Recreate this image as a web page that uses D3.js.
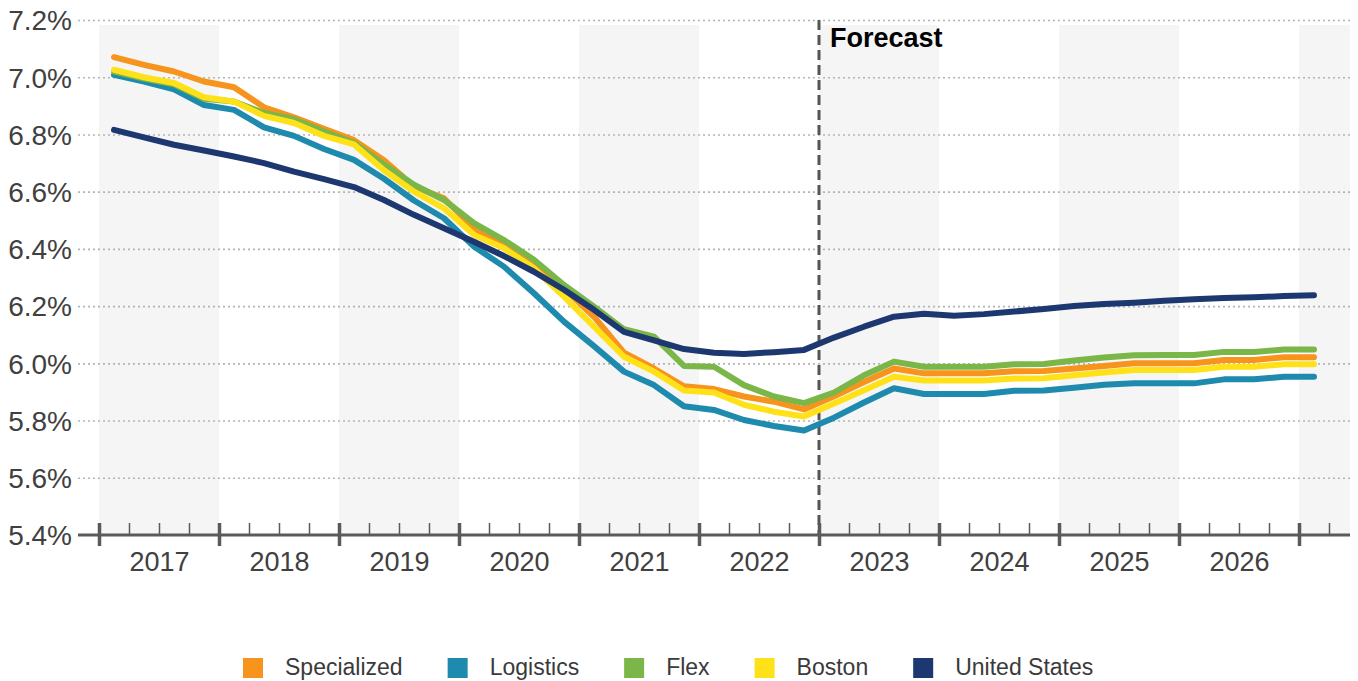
<!DOCTYPE html>
<html>
<head>
<meta charset="utf-8">
<script src="https://cdn.jsdelivr.net/npm/d3@7/dist/d3.min.js"></script>
<style>
    body { margin: 0; background: #ffffff; }
    text { font-family: Arial, "Liberation Sans", sans-serif; }
</style>
</head>
<body>
<svg id="chart" width="1358" height="681"></svg>
<script>
// data, quarterly 2017 Q1 .. 2027 Q1
var years = [2017, 2018, 2019, 2020, 2021, 2022, 2023, 2024, 2025, 2026];
var yTicks = [5.4, 5.6, 5.8, 6.0, 6.2, 6.4, 6.6, 6.8, 7.0, 7.2];
var forecastStart = 2023;

var specialized = [7.07, 7.043, 7.02, 6.985, 6.965, 6.895, 6.86, 6.82, 6.78, 6.71,
    6.618, 6.577, 6.472, 6.408, 6.338, 6.262, 6.163, 6.037, 5.982, 5.92,
    5.91, 5.884, 5.866, 5.839, 5.885, 5.935, 5.982, 5.965, 5.965, 5.965,
    5.972, 5.973, 5.982, 5.991, 6.0, 6.0, 6.0, 6.012, 6.012, 6.021, 6.021];
var logistics = [7.008, 6.985, 6.958, 6.903, 6.886, 6.825, 6.795, 6.749, 6.711, 6.645,
    6.569, 6.507, 6.408, 6.338, 6.245, 6.146, 6.06, 5.971, 5.924, 5.85,
    5.837, 5.802, 5.781, 5.765, 5.81, 5.863, 5.913, 5.893, 5.893, 5.893,
    5.904, 5.905, 5.915, 5.925, 5.93, 5.93, 5.93, 5.944, 5.944, 5.953, 5.953];
var flex = [7.02, 6.995, 6.975, 6.925, 6.915, 6.875, 6.853, 6.81, 6.77, 6.695,
    6.624, 6.571, 6.49, 6.431, 6.362, 6.274, 6.198, 6.119, 6.093, 5.991,
    5.988, 5.924, 5.884, 5.861, 5.898, 5.958, 6.006, 5.988, 5.988, 5.988,
    5.997, 5.998, 6.01, 6.02, 6.028, 6.029, 6.029, 6.04, 6.04, 6.048, 6.048];
var boston = [7.026, 7.0, 6.98, 6.93, 6.915, 6.865, 6.84, 6.795, 6.765, 6.675,
    6.60, 6.542, 6.449, 6.402, 6.332, 6.233, 6.128, 6.023, 5.971, 5.905,
    5.898, 5.855, 5.831, 5.814, 5.86, 5.906, 5.953, 5.94, 5.94, 5.94,
    5.947, 5.948, 5.958, 5.968, 5.977, 5.977, 5.977, 5.988, 5.988, 5.997, 5.997];
var unitedStates = [6.816, 6.79, 6.764, 6.744, 6.723, 6.70, 6.67, 6.644, 6.616, 6.571,
    6.519, 6.472, 6.425, 6.375, 6.32, 6.257, 6.187, 6.11, 6.08, 6.05,
    6.037, 6.033, 6.039, 6.047, 6.09, 6.128, 6.163, 6.173, 6.166, 6.172,
    6.181, 6.19, 6.2, 6.207, 6.212, 6.219, 6.224, 6.228, 6.231, 6.235, 6.238];

// quarter midpoints, as fractional years
var quarters = [];
years.concat([2027]).forEach(function(yr) {
    [1, 2, 3, 4].forEach(function(q) { quarters.push(yr + (q - 0.5) / 4); });
});
quarters = quarters.slice(0, specialized.length);

var series = [
    {name: "Specialized", color: "#F7941D", values: specialized},
    {name: "Logistics", color: "#1E8AAD", values: logistics},
    {name: "Flex", color: "#7AB648", values: flex},
    {name: "Boston", color: "#FFE11A", values: boston},
    {name: "United States", color: "#1D3870", values: unitedStates}
];
// draw order (last on top)
var drawOrder = ["Specialized", "Logistics", "Flex", "Boston", "United States"];

var style = {
    left: 78,
    right: 1350,
    top: 20,
    bottom: 535,
    bandTop: 25,
    axisColor: "#5a5a5a",
    textColor: "#404040"
};

var svg = d3.select("#chart");

var x = d3.scaleLinear()
    .domain([2017, 2027])
    .range([99, 1299]);

var y = d3.scaleLinear()
    .domain([5.4, 7.2])
    .range([style.bottom, style.top]);

// alternating year bands
var bandYears = years.concat([2027]).filter(function(d, i) { return i % 2 === 0; });
svg.append("g")
    .selectAll("rect")
    .data(bandYears)
    .enter()
    .append("rect")
    .attr("x", function(d) { return x(d); })
    .attr("y", style.bandTop)
    .attr("width", function(d) { return Math.min(x(d + 1), style.right) - x(d); })
    .attr("height", style.bottom - style.bandTop)
    .attr("fill", "#f5f5f5");

// gridlines
var grid = svg.append("g")
    .attr("transform", "translate(" + style.right + ",0)")
    .call(d3.axisLeft(y)
        .tickValues(yTicks.filter(function(d) { return d > 5.4; }))
        .tickSize(style.right - style.left)
        .tickFormat(""));
grid.select(".domain").remove();
grid.selectAll("line")
    .attr("stroke", "#b4b4b4")
    .attr("stroke-width", 1.6)
    .attr("stroke-dasharray", "2,3");

// y labels
var yAxis = svg.append("g")
    .attr("transform", "translate(72,0)")
    .call(d3.axisLeft(y)
        .tickValues(yTicks)
        .tickSize(0)
        .tickPadding(0)
        .tickFormat(function(d) { return d.toFixed(1) + "%"; }));
yAxis.select(".domain").remove();
yAxis.selectAll("text")
    .attr("font-size", 28)
    .attr("fill", style.textColor)
    .attr("dy", "0.35em");

// forecast divider
svg.append("line")
    .attr("x1", x(forecastStart))
    .attr("x2", x(forecastStart))
    .attr("y1", style.top)
    .attr("y2", style.bottom)
    .attr("stroke", "#555555")
    .attr("stroke-width", 3)
    .attr("stroke-dasharray", "10,5");

svg.append("text")
    .attr("x", x(forecastStart) + 11)
    .attr("y", 47)
    .attr("font-size", 27)
    .attr("font-weight", "bold")
    .attr("fill", "#000000")
    .text("Forecast");

// lines
var line = d3.line()
    .x(function(d, i) { return x(quarters[i]); })
    .y(function(d) { return y(d); });

svg.append("g")
    .selectAll("path")
    .data(drawOrder.map(function(n) { return series.find(function(s) { return s.name === n; }); }))
    .enter()
    .append("path")
    .attr("d", function(s) { return line(s.values); })
    .attr("fill", "none")
    .attr("stroke", function(s) { return s.color; })
    .attr("stroke-width", 6)
    .attr("stroke-linejoin", "round")
    .attr("stroke-linecap", "round");

// x axis: baseline, minor ticks, major ticks, year labels
var axisTop = 523;

var minorTicks = [];
years.concat([2027]).forEach(function(yr) {
    [0.25, 0.5, 0.75].forEach(function(f) { minorTicks.push(yr + f); });
});
minorTicks = minorTicks.filter(function(d) { return x(d) < style.right; });

var minor = svg.append("g")
    .attr("transform", "translate(0," + axisTop + ")")
    .call(d3.axisBottom(x).tickValues(minorTicks).tickSize(style.bottom - axisTop).tickFormat(""));
minor.select(".domain").remove();
minor.selectAll("line").attr("stroke", style.axisColor).attr("stroke-width", 1.5);

var major = svg.append("g")
    .attr("transform", "translate(0," + axisTop + ")")
    .call(d3.axisBottom(x).tickValues(years.concat([2027])).tickSize(23).tickFormat(""));
major.select(".domain").remove();
major.selectAll("line").attr("stroke", style.axisColor).attr("stroke-width", 3.5);

svg.append("line")
    .attr("x1", style.left)
    .attr("x2", style.right)
    .attr("y1", style.bottom)
    .attr("y2", style.bottom)
    .attr("stroke", style.axisColor)
    .attr("stroke-width", 3);

var labels = svg.append("g")
    .attr("transform", "translate(0," + style.bottom + ")")
    .call(d3.axisBottom(x)
        .tickValues(years.map(function(d) { return d + 0.5; }))
        .tickSize(0)
        .tickPadding(0)
        .tickFormat(function(d) { return String(Math.floor(d)); }));
labels.select(".domain").remove();
labels.selectAll("text")
    .attr("font-size", 27)
    .attr("fill", style.textColor)
    .attr("dy", "1.35em");

// legend
var legend = svg.append("g").attr("transform", "translate(0,658)");
var lx = 243;
series.forEach(function(s) {
    legend.append("rect")
        .attr("x", lx)
        .attr("y", 0)
        .attr("width", 20)
        .attr("height", 20)
        .attr("fill", s.color);
    var t = legend.append("text")
        .attr("x", lx + 42)
        .attr("y", 17)
        .attr("font-size", 23)
        .attr("fill", "#3a3a3a")
        .text(s.name);
    lx = lx + 42 + t.node().getComputedTextLength() + 45;
});
</script>
</body>
</html>
